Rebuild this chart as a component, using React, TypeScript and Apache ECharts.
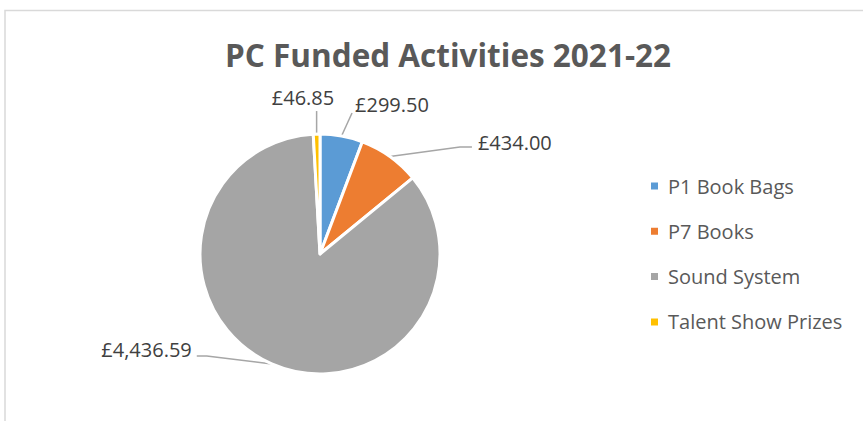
import React, { useEffect, useRef } from "react";
import * as echarts from "echarts";

const categories = ["P1 Book Bags", "P7 Books", "Sound System", "Talent Show Prizes"];
const values = [299.5, 434.0, 4436.59, 46.85];
const colors = ["#5B9BD5", "#ED7D31", "#A5A5A5", "#FFC000"];
const titleText = "PC Funded Activities 2021-22";

// label placement relative to each slice's leader-line anchor (layout only)
const labelOffsets = [
  { dx: 13.5, dy: -31, align: "left", line: [[10.5, -23]] },
  { dx: 88, dy: -14, align: "left", line: [[70, -9.5], [82, -9.5]] },
  { dx: -80, dy: -14, align: "right", line: [[-65, -8], [-75, -8]] },
  { dx: -13.6, dy: -37, align: "center", line: [[0, -23]] },
];

const fmt = (v: number) =>
  "£" + v.toLocaleString("en-GB", { minimumFractionDigits: 2, maximumFractionDigits: 2 });

export default function App() {
  const ref = useRef<HTMLDivElement>(null);
  useEffect(() => {
    if (!ref.current) return;
    const chart = echarts.init(ref.current, null, { renderer: "svg" });
    chart.setOption({
      animation: false,
      textStyle: { fontFamily: "Open Sans" },
      graphic: [
        {
          type: "rect",
          shape: { x: 5, y: 10.5, width: 900, height: 500 },
          style: { fill: "none", stroke: "#D9D9D9", lineWidth: 1.5 },
          silent: true,
        },
      ],
      title: {
        text: titleText,
        left: 443,
        top: 31,
        textAlign: "center",
        textStyle: {
          fontFamily: "Open Sans",
          fontSize: 31.5,
          fontWeight: "bold",
          color: "#595959",
          lineHeight: 36,
        },
      },
      legend: {
        orient: "vertical",
        left: 649,
        top: 176,
        padding: 0,
        icon: "rect",
        itemWidth: 9,
        itemHeight: 9,
        itemGap: 25.3,
        data: categories,
        textStyle: {
          fontFamily: "Open Sans",
          fontSize: 20,
          color: "#595959",
          lineHeight: 20,
          padding: [0, 0, 0, 4],
        },
      },
      series: [
        {
          type: "pie",
          center: [320, 254],
          radius: 120,
          startAngle: 90,
          clockwise: true,
          avoidLabelOverlap: false,
          color: colors,
          itemStyle: { borderColor: "#FFFFFF", borderWidth: 3 },
          label: {
            show: true,
            position: "outside",
            formatter: (p: any) => fmt(p.value),
            fontFamily: "Open Sans",
            fontSize: 20,
            color: "#404040",
          },
          labelLine: {
            show: true,
            length: 20,
            length2: 10,
            lineStyle: { color: "#A6A6A6", width: 1.5 },
          },
          labelLayout: (params: any) => {
            const o = labelOffsets[params.dataIndex];
            const pts = params.labelLinePoints;
            if (!o || !pts) return {};
            const a = pts[0];
            return {
              x: a[0] + o.dx,
              y: a[1] + o.dy,
              align: o.align,
              verticalAlign: "middle",
              labelLinePoints: [[a[0], a[1]], ...o.line.map((q) => [a[0] + q[0], a[1] + q[1]])],
            };
          },
          emphasis: { disabled: true },
          data: categories.map((name, i) => ({ name, value: values[i] })),
        },
      ],
    });
    return () => chart.dispose();
  }, []);
  return (
    <div
      ref={ref}
      style={{ position: "fixed", left: 0, top: 0, width: 863, height: 421, background: "#FFFFFF" }}
    />
  );
}
